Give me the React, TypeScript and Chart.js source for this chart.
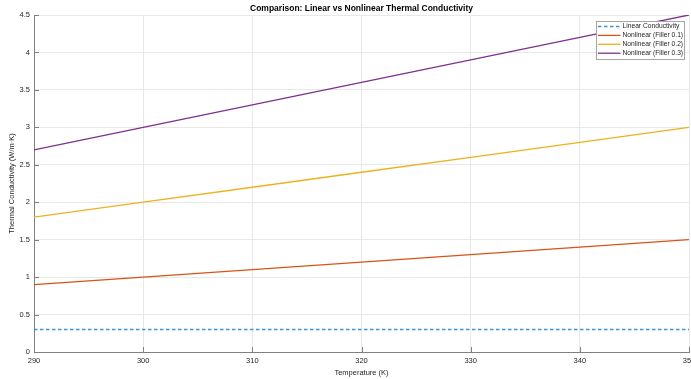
import { useEffect, useRef } from 'react';
import { Chart, registerables } from 'chart.js';

Chart.register(...registerables);

// Temperature samples (K) and conductivity values (W/m·K)
const temperature = [290, 300, 310, 320, 330, 340, 350];
const linearK = [0.3, 0.3, 0.3, 0.3, 0.3, 0.3, 0.3];
const filler01 = [0.9, 1.0, 1.1, 1.2, 1.3, 1.4, 1.5];
const filler02 = [1.8, 2.0, 2.2, 2.4, 2.6, 2.8, 3.0];
const filler03 = [2.7, 3.0, 3.3, 3.6, 3.9, 4.2, 4.5];

const seriesLabels = [
  'Linear Conductivity',
  'Nonlinear (Filler 0.1)',
  'Nonlinear (Filler 0.2)',
  'Nonlinear (Filler 0.3)',
];
const seriesColors = ['#3d93d6', '#d95319', '#edb120', '#7e2f8e'];

const xTicks = [290, 300, 310, 320, 330, 340, 350];
const yTicks = [0, 0.5, 1, 1.5, 2, 2.5, 3, 3.5, 4, 4.5];

const FONT = '"Liberation Sans", Arial, Helvetica, sans-serif';
const AXIS_GRAY = '#808080';
const TEXT = '#262626';

const toPoints = (ys: number[]) => temperature.map((t, i) => ({ x: t, y: ys[i] }));

// Inward tick marks plus a boxed legend in the upper-right corner of the plot
const axesDecor = {
  id: 'axesDecor',
  afterDraw(chart: any) {
    const { ctx, chartArea, scales } = chart;
    const { left, right, top, bottom } = chartArea;
    const x = scales.x;
    const y = scales.y;
    ctx.save();
    ctx.strokeStyle = AXIS_GRAY;
    ctx.lineWidth = 1;
    ctx.beginPath();
    for (const v of xTicks) {
      const px = Math.round(x.getPixelForValue(v)) + 0.5;
      ctx.moveTo(px, bottom);
      ctx.lineTo(px, bottom - 5);
    }
    for (const v of yTicks) {
      const py = Math.round(y.getPixelForValue(v)) + 0.5;
      ctx.moveTo(left, py);
      ctx.lineTo(left + 5, py);
    }
    ctx.stroke();

    // legend
    const boxW = 88;
    const boxH = 38;
    const bx = Math.round(right - 5 - boxW) + 0.5;
    const by = Math.round(top + 6) + 0.5;
    ctx.fillStyle = '#ffffff';
    ctx.fillRect(bx, by, boxW, boxH);
    ctx.strokeStyle = '#a6a6a6';
    ctx.lineWidth = 1;
    ctx.strokeRect(bx, by, boxW, boxH);
    ctx.font = `6.7px ${FONT}`;
    ctx.textBaseline = 'middle';
    ctx.textAlign = 'left';
    seriesLabels.forEach((label, i) => {
      const rowY = by + 5 + i * 8.9;
      ctx.strokeStyle = seriesColors[i];
      ctx.lineWidth = 1.3;
      ctx.setLineDash(i === 0 ? [3.5, 2.5] : []);
      ctx.beginPath();
      ctx.moveTo(bx + 1.5, rowY);
      ctx.lineTo(bx + 24, rowY);
      ctx.stroke();
      ctx.setLineDash([]);
      ctx.fillStyle = TEXT;
      ctx.fillText(label, bx + 26, rowY);
    });
    ctx.restore();
  },
};

export default function App() {
  const canvasRef = useRef<HTMLCanvasElement | null>(null);

  useEffect(() => {
    const canvas = canvasRef.current;
    if (!canvas) return;
    const values = [linearK, filler01, filler02, filler03];
    const chart = new Chart(canvas, {
      type: 'line',
      data: {
        datasets: values.map((ys, i) => ({
          label: seriesLabels[i],
          data: toPoints(ys),
          borderColor: seriesColors[i],
          backgroundColor: seriesColors[i],
          borderWidth: i === 0 ? 1.5 : 1.3,
          borderDash: i === 0 ? [3.5, 2.5] : [],
          pointRadius: 0,
          tension: 0,
          fill: false,
        })),
      },
      options: {
        responsive: false,
        animation: false,
        devicePixelRatio: 1,
        layout: { autoPadding: false, padding: { left: 0, right: 2, top: 0, bottom: 0 } },
        plugins: {
          legend: { display: false },
          tooltip: { enabled: false },
          title: {
            display: true,
            fullSize: false,
            text: 'Comparison: Linear vs Nonlinear Thermal Conductivity',
            color: '#000000',
            font: { family: FONT, size: 8.5, weight: 'bold', lineHeight: 1.2 },
            padding: { top: 4, bottom: 0.8 },
          },
        },
        scales: {
          x: {
            type: 'linear',
            min: 290,
            max: 350,
            afterFit: (s: any) => {
              s.height = 27;
              s.paddingLeft = 0;
              s.paddingRight = 0;
            },
            afterBuildTicks: (s: any) => {
              s.ticks = xTicks.map((v) => ({ value: v }));
            },
            ticks: {
              color: TEXT,
              font: { family: FONT, size: 7.5 },
              padding: 4,
              maxRotation: 0,
              autoSkip: false,
              callback: (v: any) => String(v),
            },
            grid: { color: '#e8e8e8', drawTicks: false, lineWidth: 1 },
            border: { display: true, color: AXIS_GRAY, width: 1 },
            title: {
              display: true,
              text: 'Temperature (K)',
              color: TEXT,
              font: { family: FONT, size: 7.5, lineHeight: 1.2 },
              padding: { top: 2, bottom: 2 },
            },
          },
          y: {
            type: 'linear',
            min: 0,
            max: 4.5,
            afterFit: (s: any) => {
              s.width = 34;
              s.paddingTop = 0;
              s.paddingBottom = 0;
            },
            afterBuildTicks: (s: any) => {
              s.ticks = yTicks.map((v) => ({ value: v }));
            },
            ticks: {
              color: TEXT,
              font: { family: FONT, size: 7.5 },
              padding: 4,
              autoSkip: false,
              callback: (v: any) => String(v),
            },
            grid: { color: '#e8e8e8', drawTicks: false, lineWidth: 1 },
            border: { display: true, color: AXIS_GRAY, width: 1 },
            title: {
              display: true,
              text: 'Thermal Conductivity (W/m·K)',
              color: TEXT,
              font: { family: FONT, size: 7.5, lineHeight: 1.2 },
              padding: { top: 7.5, bottom: 2 },
            },
          },
        },
      },
      plugins: [axesDecor],
    });
    return () => chart.destroy();
  }, []);

  return (
    <div style={{ position: 'fixed', left: 0, top: 0, width: 691, height: 379, background: '#ffffff' }}>
      <canvas ref={canvasRef} width={691} height={379} style={{ display: 'block' }} />
    </div>
  );
}
